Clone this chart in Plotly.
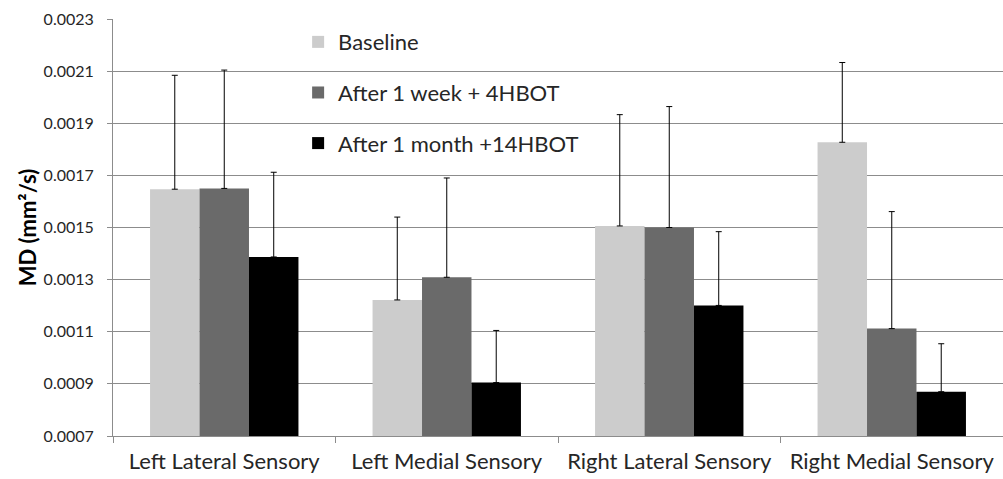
import plotly.graph_objects as go

# Mean diffusivity per region and time point
regions = ["Left Lateral Sensory", "Left Medial Sensory", "Right Lateral Sensory", "Right Medial Sensory"]
series_names = ["Baseline", "After 1 week + 4HBOT", "After 1 month +14HBOT"]
baseline = [0.001647, 0.001222, 0.001506, 0.001827]
week1 = [0.001650, 0.001309, 0.001500, 0.001112]
month1 = [0.001387, 0.000905, 0.001201, 0.000870]
baseline_sd = [0.000437, 0.000318, 0.000427, 0.000306]
week1_sd = [0.000454, 0.000381, 0.000464, 0.000449]
month1_sd = [0.000325, 0.000200, 0.000283, 0.000184]
y_ticks = [0.0007, 0.0009, 0.0011, 0.0013, 0.0015, 0.0017, 0.0019, 0.0021, 0.0023]

colors = ["#cccccc", "#6a6a6a", "#000000"]
values = [baseline, week1, month1]
errors = [baseline_sd, week1_sd, month1_sd]

FONT = "Lato"

fig = go.Figure()
for i, (name, vals, errs, col) in enumerate(zip(series_names, values, errors, colors)):
    fig.add_trace(go.Bar(
        name=name,
        x=regions,
        y=vals,
        base=0,
        marker=dict(color=col, line=dict(width=0)),
        error_y=dict(type="data", array=errs, arrayminus=[0] * len(errs),
                     symmetric=False, color="#000000", thickness=1, width=3),
        legendgroup=f"g{i}",
    ))

fig.update_layout(
    width=1003, height=479,
    margin=dict(l=113, r=0, t=19, b=43),
    paper_bgcolor="white", plot_bgcolor="white",
    barmode="group", bargap=0.333, bargroupgap=0,
    font=dict(family=FONT, color="#000000"),
    showlegend=True,
    legend=dict(
        x=0.208, y=0.995, xanchor="left", yanchor="top",
        bgcolor="rgba(0,0,0,0)", borderwidth=0,
        font=dict(family=FONT, size=22, color="#262626"),
        traceorder="grouped", tracegroupgap=19,
    ),
)

fig.update_yaxes(
    range=[0.0007, 0.0023],
    tickvals=y_ticks,
    ticktext=[f"{v:.4f}" for v in y_ticks],
    showgrid=True, gridcolor="#8c8c8c", gridwidth=1,
    showline=True, linecolor="#8c8c8c", linewidth=1,
    ticks="outside", ticklen=5, tickcolor="#8c8c8c",
    tickfont=dict(family=FONT, size=16, color="#262626"),
    ticklabelstandoff=10,
    zeroline=False, automargin=False,
    title=dict(text="<b>MD (mm²/s)</b>", font=dict(family=FONT, size=22, color="#000000"), standoff=0),
)

fig.update_xaxes(
    showline=True, linecolor="#8c8c8c", linewidth=1,
    ticks="outside", ticklen=6, tickcolor="#8c8c8c",
    tickson="boundaries", tickangle=0, automargin=False,
    tickfont=dict(family=FONT, size=22, color="#262626"),
    ticklabelstandoff=6,
    showgrid=False,
)

fig.write_html("out.html")
